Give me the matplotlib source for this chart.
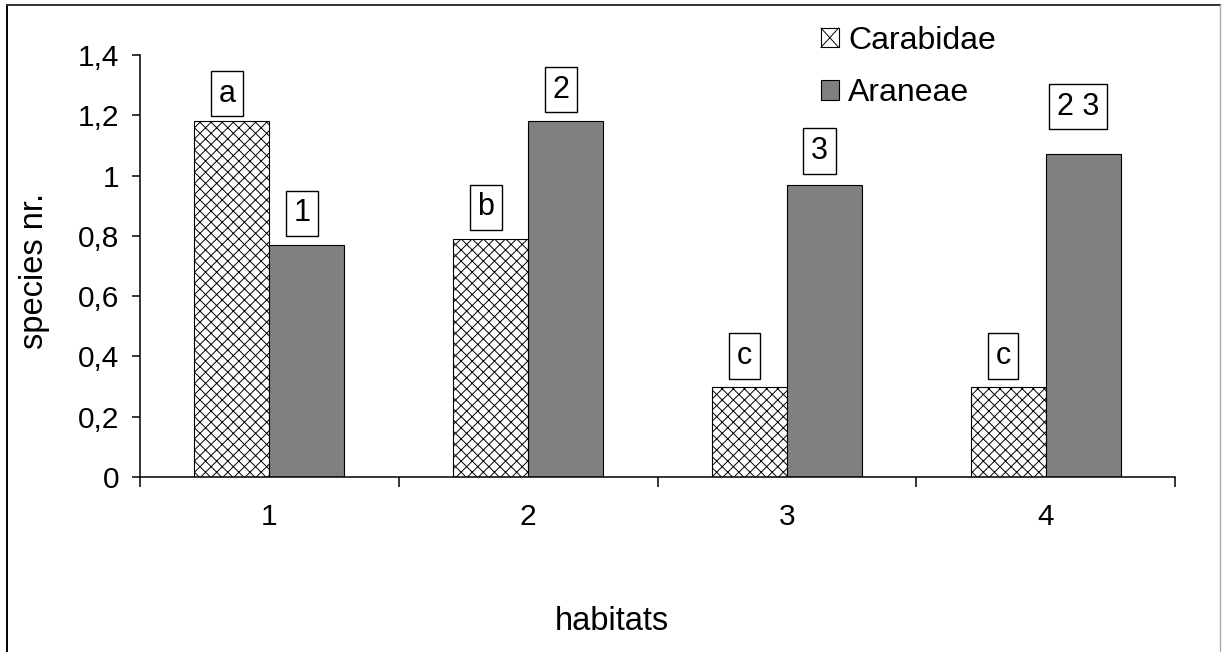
import matplotlib
matplotlib.use("Agg")
import matplotlib.pyplot as plt
from matplotlib.lines import Line2D
from matplotlib.patches import Patch, Rectangle
from matplotlib.legend_handler import HandlerBase
from matplotlib.ticker import FixedLocator, FuncFormatter
import numpy as np

# data
habitats = ["1", "2", "3", "4"]
carabidae = [1.18, 0.79, 0.30, 0.30]
araneae = [0.77, 1.18, 0.97, 1.07]
carabidae_letters = ["a", "b", "c", "c"]
araneae_groups = ["1", "2", "3", "2 3"]

# gap (px) between bar top and label box
carab_gap = [5, 9, 8, 8]
aran_gap = [9, 9, 11, 25]

DPI = 100
W, H = 1222, 652
plt.rcParams["font.family"] = ["Liberation Sans", "DejaVu Sans"]
plt.rcParams["hatch.linewidth"] = 0.7


class HandlerXBox(HandlerBase):
    # small white square with one cross, like the original legend key
    def create_artists(self, legend, orig_handle, xdescent, ydescent, width, height, fontsize, trans):
        x0, y0 = -xdescent, -ydescent
        r = Rectangle((x0, y0), width, height, facecolor="white", edgecolor="black", lw=0.8, transform=trans)
        l1 = Line2D([x0, x0 + width], [y0, y0 + height], color="black", lw=0.7, transform=trans)
        l2 = Line2D([x0, x0 + width], [y0 + height, y0], color="black", lw=0.7, transform=trans)
        return [r, l1, l2]


fig = plt.figure(figsize=(W / DPI, H / DPI), dpi=DPI)
ax = fig.add_axes([140 / W, 1 - 477 / H, (1175 - 140) / W, (477 - 55) / H])

x = np.arange(len(habitats))
bw = 0.29
ax.bar(x - bw / 2, carabidae, bw, color="white", edgecolor="black",
       hatch="xxx", linewidth=0.8)
ax.bar(x + bw / 2, araneae, bw, color="#808080", edgecolor="black", linewidth=0.8)

ax.set_xlim(-0.5, len(habitats) - 0.5)
ax.set_ylim(0, 1.4)
for s in ["top", "right"]:
    ax.spines[s].set_visible(False)
for s in ["left", "bottom"]:
    ax.spines[s].set_linewidth(1.1)

ax.yaxis.set_major_locator(FixedLocator(np.arange(0, 1.41, 0.2)))
ax.yaxis.set_major_formatter(FuncFormatter(lambda v, p: ("%g" % round(v, 1)).replace(".", ",")))
ax.tick_params(axis="y", direction="out", length=6, width=1.1, labelsize=21.5, pad=9)

ax.set_xticks(x)
ax.set_xticklabels(habitats)
ax.tick_params(axis="x", which="major", length=0, labelsize=21.5, pad=19)
ax.set_xticks(np.arange(-0.5, len(habitats), 1.0), minor=True)
ax.tick_params(axis="x", which="minor", direction="out", length=7, width=1.1)

fs_box = 22
box = dict(boxstyle="square,pad=0.25", facecolor="white", edgecolor="black", linewidth=1.0)
pad_pt = 0.25 * fs_box
dx = -5 * 72 / DPI
for xi, v, t, g in zip(x - bw / 2, carabidae, carabidae_letters, carab_gap):
    ax.annotate(t, (xi, v), xytext=(dx, g * 72 / DPI + pad_pt), textcoords="offset points",
                ha="center", va="bottom", fontsize=fs_box, bbox=box, annotation_clip=False)
for xi, v, t, g in zip(x + bw / 2, araneae, araneae_groups, aran_gap):
    ax.annotate(t, (xi, v), xytext=(dx, g * 72 / DPI + pad_pt), textcoords="offset points",
                ha="center", va="bottom", fontsize=fs_box, bbox=box, annotation_clip=False)

fig.text(35 / W, 1 - 271 / H, "species nr.", rotation=90, ha="center", va="center", fontsize=23.5)
fig.text(612 / W, 1 - 621 / H, "habitats", ha="center", va="center", fontsize=23.5)

carab_key = Patch(facecolor="white", edgecolor="black")
aran_key = Patch(facecolor="#808080", edgecolor="black", linewidth=0.8)
fig.legend(handles=[carab_key, aran_key], labels=["Carabidae", "Araneae"],
           handler_map={carab_key: HandlerXBox()},
           loc="upper left", bbox_to_anchor=(821 / W, 1 - 26 / H),
           frameon=False, fontsize=23, handlelength=0.55, handleheight=0.55,
           handletextpad=0.3, labelspacing=0.7, borderaxespad=0, borderpad=0)

# outer frame of the original picture
fig.add_artist(Line2D([7 / W, 7 / W], [0, 1 - 5 / H], color="black", lw=1.4, transform=fig.transFigure))
fig.add_artist(Line2D([7 / W, 1220 / W], [1 - 5 / H, 1 - 5 / H], color="#333333", lw=1.4, transform=fig.transFigure))
fig.add_artist(Line2D([1220 / W, 1220 / W], [0, 1 - 5 / H], color="#aaaaaa", lw=1.0, transform=fig.transFigure))

fig.savefig("out.png", dpi=DPI)
